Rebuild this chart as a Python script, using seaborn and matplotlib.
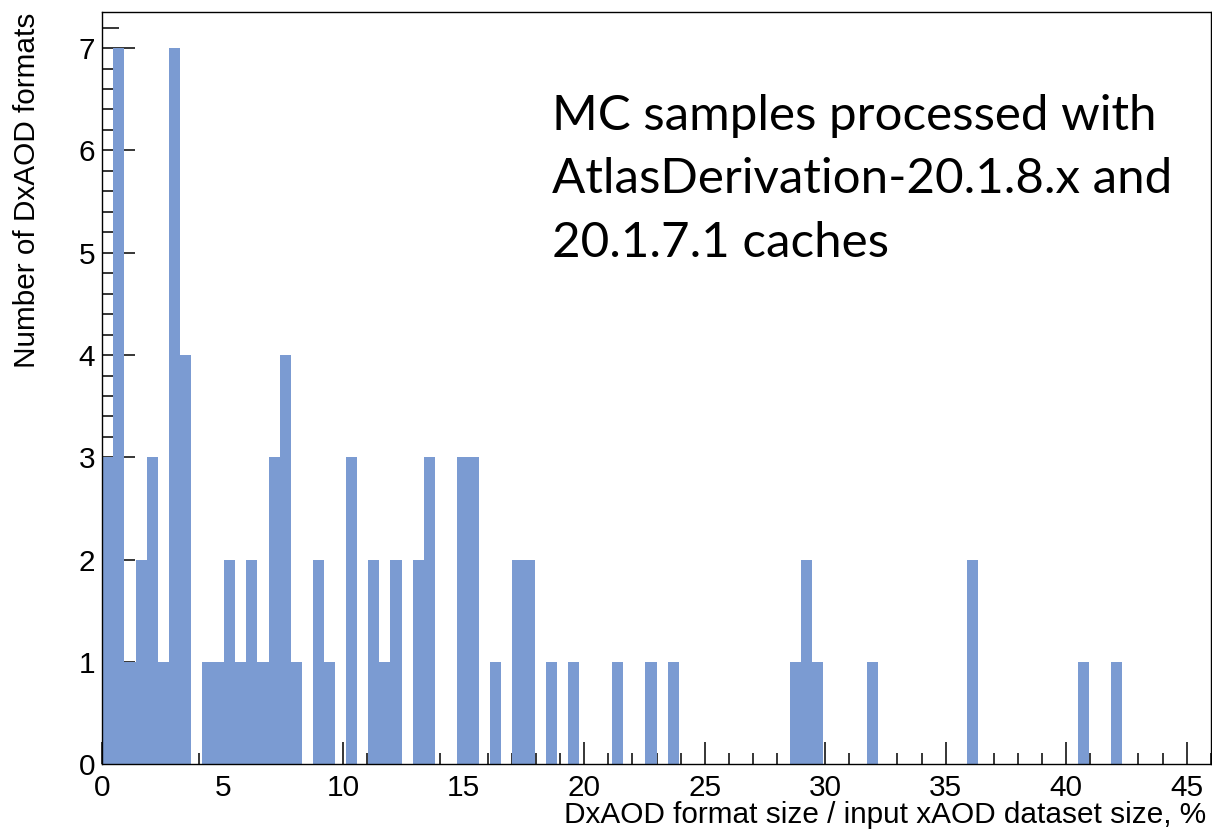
import numpy as np
import pandas as pd
import matplotlib
matplotlib.use("Agg")
import matplotlib.pyplot as plt
from matplotlib.ticker import MultipleLocator
import seaborn as sns

# ---- data (100 bins over 0..46 %) ----
x_min, x_max, n_bins = 0.0, 46.0, 100
bin_counts = [
    3, 7, 1, 2, 3, 1, 7, 4, 0, 1,
    1, 2, 1, 2, 1, 3, 4, 1, 0, 2,
    1, 0, 3, 0, 2, 1, 2, 0, 2, 3,
    0, 0, 3, 3, 0, 1, 0, 2, 2, 0,
    1, 0, 1, 0, 0, 0, 1, 0, 0, 1,
    0, 1, 0, 0, 0, 0, 0, 0, 0, 0,
    0, 0, 1, 2, 1, 0, 0, 0, 0, 1,
    0, 0, 0, 0, 0, 0, 0, 0, 2, 0,
    0, 0, 0, 0, 0, 0, 0, 0, 1, 0,
    0, 1, 0, 0, 0, 0, 0, 0, 0, 0,
]
x_ticks = [0, 5, 10, 15, 20, 25, 30, 35, 40, 45]
y_ticks = [0, 1, 2, 3, 4, 5, 6, 7]
x_title = "DxAOD format size / input xAOD dataset size, %"
y_title = "Number of DxAOD formats"
note_lines = ["MC samples processed with",
              "AtlasDerivation-20.1.8.x and",
              "20.1.7.1 caches"]

edges = np.linspace(x_min, x_max, n_bins + 1)
centers = 0.5 * (edges[:-1] + edges[1:])
df = pd.DataFrame({"size": centers, "count": np.asarray(bin_counts, dtype=float)})

# ---- style ----
sns.set_style("ticks")
plt.rcParams["font.family"] = ["Liberation Sans", "DejaVu Sans"]
plt.rcParams["text.color"] = "black"
plt.rcParams["axes.labelcolor"] = "black"
plt.rcParams["xtick.color"] = "black"
plt.rcParams["ytick.color"] = "black"

W, H, DPI = 1212, 832, 100
fig = plt.figure(figsize=(W / DPI, H / DPI), dpi=DPI)
L, R, T, B = 102.3, 1210.7, 12.3, 764.3
ax = fig.add_axes([L / W, 1 - B / H, (R - L) / W, (B - T) / H])

sns.histplot(data=df, x="size", weights="count", bins=edges.tolist(), element="step",
             fill=True, color="#7B9BD2", alpha=1.0, linewidth=0, ax=ax)

ax.set_xlim(x_min, x_max)
ax.set_ylim(0, 7.35)
ax.set_xticks(x_ticks)
ax.set_yticks(y_ticks)
ax.xaxis.set_minor_locator(MultipleLocator(1))
ax.yaxis.set_minor_locator(MultipleLocator(0.2))

for s in ax.spines.values():
    s.set_visible(True)
    s.set_color("black")
    s.set_linewidth(1.0)

FS = 21.4
ax.tick_params(axis="x", which="major", direction="in", length=15.8, width=1.1,
               labelsize=FS, pad=7, colors="black", top=False)
ax.tick_params(axis="x", which="minor", direction="in", length=7.9, width=1.1,
               colors="black", top=False)
ax.tick_params(axis="y", which="major", direction="in", length=23.8, width=1.1,
               labelsize=FS, pad=5, colors="black", right=False)
ax.tick_params(axis="y", which="minor", direction="in", length=12.2, width=1.1,
               colors="black", right=False)

ax.set_xlabel(x_title, fontsize=FS, loc="right", color="black")
ax.xaxis.set_label_coords((1206 - L) / (R - L), (B - 823.3) / (B - T))
ax.xaxis.label.set_va("baseline")
ax.set_ylabel(y_title, fontsize=FS, loc="top", color="black")
ax.yaxis.set_label_coords((35 - L) / (R - L), (B - 13) / (B - T))
ax.yaxis.label.set_va("baseline")

baselines = [130, 193, 257]
for line, yb in zip(note_lines, baselines):
    ax.text((552 - L) / (R - L), (B - yb) / (B - T), line, transform=ax.transAxes,
            fontsize=35.5, family=["Lato", "DejaVu Sans"], ha="left", va="baseline",
            color="black")

fig.savefig("out.png", dpi=DPI)
